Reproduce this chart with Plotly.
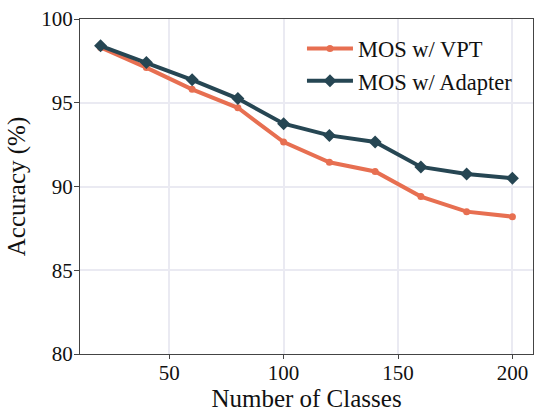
import plotly.graph_objects as go

classes = [20, 40, 60, 80, 100, 120, 140, 160, 180, 200]
vpt = [98.3, 97.1, 95.8, 94.7, 92.65, 91.45, 90.9, 89.4, 88.5, 88.2]
adapter = [98.4, 97.4, 96.37, 95.25, 93.75, 93.05, 92.66, 91.17, 90.75, 90.5]

font_family = "Liberation Serif"

fig = go.Figure()
fig.add_trace(go.Scatter(
    x=classes, y=vpt, mode="lines+markers", name="MOS w/ VPT",
    line=dict(color="#E76F51", width=4),
    marker=dict(symbol="circle", size=7, color="#E76F51"),
))
fig.add_trace(go.Scatter(
    x=classes, y=adapter, mode="lines+markers", name="MOS w/ Adapter",
    line=dict(color="#264653", width=4),
    marker=dict(symbol="diamond", size=10, color="#264653"),
))

axis_common = dict(
    showline=True, linecolor="#444", linewidth=1.3, mirror=True,
    ticks="outside", tickcolor="#444", tickwidth=1.3,
    showgrid=True, gridcolor="#EAEAF2", gridwidth=1.8,
    zeroline=False,
    tickfont=dict(family=font_family, size=21, color="#111"),
)

fig.update_layout(
    width=534, height=412,
    margin=dict(l=80, r=1, t=19, b=58),
    paper_bgcolor="white", plot_bgcolor="white",
    font=dict(family=font_family, color="#111"),
    xaxis=dict(
        range=[11, 209], tickvals=[50, 100, 150, 200], ticklen=4,
        ticklabelstandoff=-4,
        title=dict(text="Number of Classes", font=dict(family=font_family, size=25), standoff=2),
        **axis_common,
    ),
    yaxis=dict(
        range=[80, 100], tickvals=[80, 85, 90, 95, 100], ticklen=5,
        ticklabelstandoff=-3,
        title=dict(text="Accuracy (%)", font=dict(family=font_family, size=25), standoff=8),
        **axis_common,
    ),
    legend=dict(
        x=0.49, y=0.975, xanchor="left", yanchor="top",
        bgcolor="rgba(0,0,0,0)", borderwidth=0,
        font=dict(family=font_family, size=22.5, color="#111"),
        itemwidth=46, tracegroupgap=0,
    ),
)

fig.write_html("out.html")
